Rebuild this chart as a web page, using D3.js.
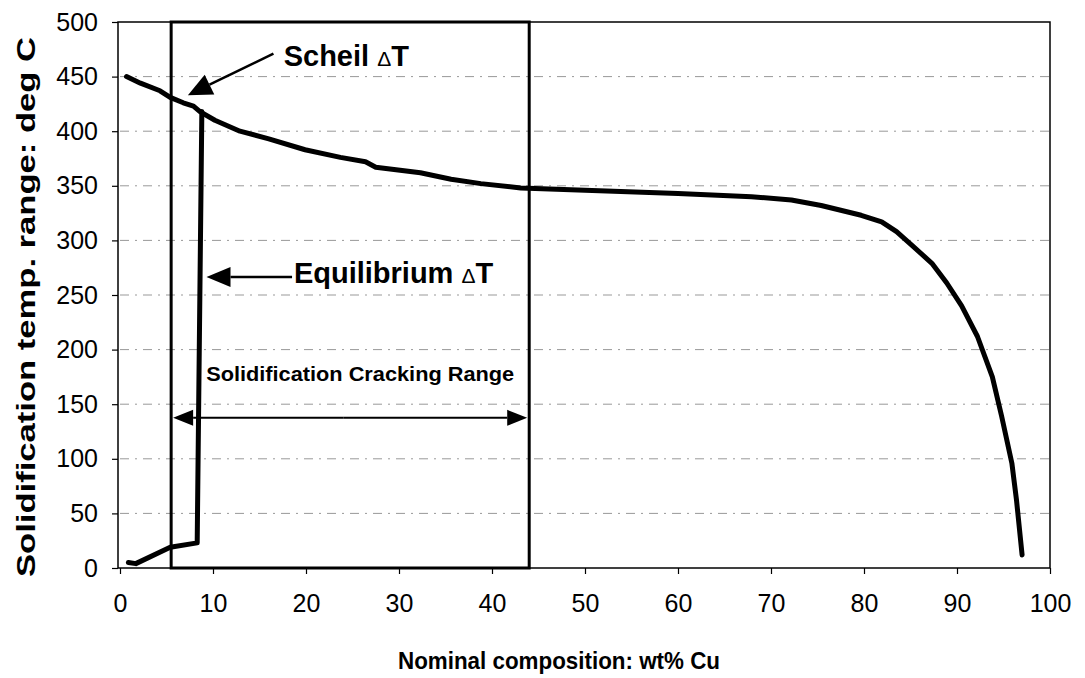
<!DOCTYPE html>
<html>
<head>
<meta charset="utf-8">
<script src="https://cdn.jsdelivr.net/npm/d3@7"></script>
<style>
  body { margin: 0; background: #fff; }
  text { font-family: "Liberation Sans", Arial, sans-serif; fill: #000; }
</style>
</head>
<body>
<div id="chart"></div>
<script>
// Scheil solidification range vs composition
const scheilX = [0.7, 2.2, 4.3, 5.4, 6.8, 7.9, 8.6, 10.2, 12.9, 16, 19.9, 23.7, 26.4, 27.5, 32.3, 35.6, 38.8, 43.1, 50, 60, 67.9, 72.2, 75.4, 79.7, 81.9, 83.5, 85.1, 87.3, 88.9, 90.5, 92.2, 93.8, 94.8, 95.9, 96.4, 97];
const scheilY = [450, 444, 437, 431, 426, 423, 418, 410, 400, 393, 383, 376, 372, 367, 362, 356, 352, 348, 346, 343, 340, 337, 332, 323, 317, 308, 296, 279, 261, 240, 212, 175, 139, 96, 62, 12];
// Equilibrium range
const equilX = [0.9, 1.7, 5.4, 8.3, 8.8];
const equilY = [5, 4, 19, 23, 418];

const xTicks = [0, 10, 20, 30, 40, 50, 60, 70, 80, 90, 100];
const yTicks = [0, 50, 100, 150, 200, 250, 300, 350, 400, 450, 500];

// cracking range box (wt% Cu)
const crackRange = [5.5, 44];

const width = 1085, height = 678;
const svg = d3.select("#chart").append("svg")
  .attr("width", width).attr("height", height);

const x = d3.scaleLinear().domain([0, 100]).range([120, 1050]);
const y = d3.scaleLinear().domain([0, 500]).range([568, 22]);

// gridlines
svg.append("g").selectAll("line")
  .data(yTicks.filter(d => d > 0 && d < 500))
  .enter().append("line")
  .attr("x1", x(0)).attr("x2", x(100))
  .attr("y1", d => y(d)).attr("y2", d => y(d))
  .style("stroke", "#999")
  .style("stroke-width", 1)
  .style("stroke-dasharray", "9,6,2,6");

// plot frame
svg.append("rect")
  .attr("x", x(0) - 2).attr("y", y(500))
  .attr("width", x(100) - x(0) + 2).attr("height", y(0) - y(500))
  .style("fill", "none").style("stroke", "#000").style("stroke-width", 1.5);

// axes
const xAxis = svg.append("g")
  .attr("transform", "translate(0," + y(0) + ")")
  .call(d3.axisBottom(x).tickValues(xTicks).tickSize(6).tickPadding(20));
const yAxis = svg.append("g")
  .attr("transform", "translate(" + (x(0) - 2) + ",0)")
  .call(d3.axisLeft(y).tickValues(yTicks).tickSize(6).tickPadding(14));
[xAxis, yAxis].forEach(a => {
  a.select(".domain").remove();
  a.selectAll("line").style("stroke", "#000").style("stroke-width", 1.2);
  a.selectAll("text").style("font-size", "25px")
    .style("font-family", "'Liberation Sans', Arial, sans-serif");
});

svg.append("text")
  .attr("x", 559).attr("y", 669)
  .style("text-anchor", "middle")
  .style("font-size", "24px").style("font-weight", "bold")
  .attr("textLength", 322).attr("lengthAdjust", "spacingAndGlyphs")
  .text("Nominal composition: wt% Cu");

svg.append("text")
  .attr("transform", "translate(35,307) rotate(-90)")
  .style("text-anchor", "middle")
  .style("font-size", "25px").style("font-weight", "bold")
  .attr("textLength", 540).attr("lengthAdjust", "spacingAndGlyphs")
  .text("Solidification temp. range: deg C");

// cracking range box
svg.append("rect")
  .attr("x", x(crackRange[0])).attr("y", y(500))
  .attr("width", x(crackRange[1]) - x(crackRange[0]))
  .attr("height", y(0) - y(500))
  .style("fill", "none").style("stroke", "#000").style("stroke-width", 3);

// curves
const line = d3.line().x(d => x(d[0])).y(d => y(d[1]));
svg.append("path")
  .datum(scheilX.map((v, i) => [v, scheilY[i]]))
  .attr("d", line)
  .style("fill", "none").style("stroke", "#000").style("stroke-width", 5)
  .style("stroke-linejoin", "round").style("stroke-linecap", "round");
svg.append("path")
  .datum(equilX.map((v, i) => [v, equilY[i]]))
  .attr("d", line)
  .style("fill", "none").style("stroke", "#000").style("stroke-width", 5)
  .style("stroke-linejoin", "round").style("stroke-linecap", "round");

// arrow helper: line from (x1,y1) to tip (x2,y2)
function arrow(x1, y1, x2, y2, len, half, w) {
  const ang = Math.atan2(y2 - y1, x2 - x1);
  const bx = x2 - len * Math.cos(ang), by = y2 - len * Math.sin(ang);
  svg.append("line")
    .attr("x1", x1).attr("y1", y1).attr("x2", bx).attr("y2", by)
    .style("stroke", "#000").style("stroke-width", w);
  const px = -Math.sin(ang) * half, py = Math.cos(ang) * half;
  svg.append("polygon")
    .attr("points", [[x2, y2], [bx + px, by + py], [bx - px, by - py]].map(p => p.join(",")).join(" "))
    .style("fill", "#000");
}

// Scheil label
arrow(x(16.5), y(471), x(7.3), y(433), 24, 11, 2.5);
const sch = svg.append("text").attr("x", x(17.6)).attr("y", y(460))
  .style("font-size", "29px").style("font-weight", "bold");
sch.append("tspan").text("Scheil ");
sch.append("tspan").style("font-size", "21px").style("font-weight", "normal").text("\u0394");
sch.append("tspan").text("T");

// Equilibrium label
arrow(x(18.5), y(266.5), x(9.3), y(266.5), 24, 10, 2.5);
const eq = svg.append("text").attr("x", x(18.7)).attr("y", y(261))
  .style("font-size", "29px").style("font-weight", "bold");
eq.append("tspan").text("Equilibrium ");
eq.append("tspan").style("font-size", "21px").style("font-weight", "normal").text("\u0394");
eq.append("tspan").text("T");

// cracking range double arrow
const ay = y(137.5);
arrow(x(24), ay, x(crackRange[0]) + 2, ay, 20, 8, 2);
arrow(x(24), ay, x(crackRange[1]) - 2, ay, 20, 8, 2);
svg.append("text")
  .attr("x", (x(crackRange[0]) + x(crackRange[1])) / 2 + 10).attr("y", y(171))
  .style("text-anchor", "middle")
  .style("font-size", "21px").style("font-weight", "bold")
  .attr("textLength", 308).attr("lengthAdjust", "spacingAndGlyphs")
  .text("Solidification Cracking Range");
</script>
</body>
</html>
